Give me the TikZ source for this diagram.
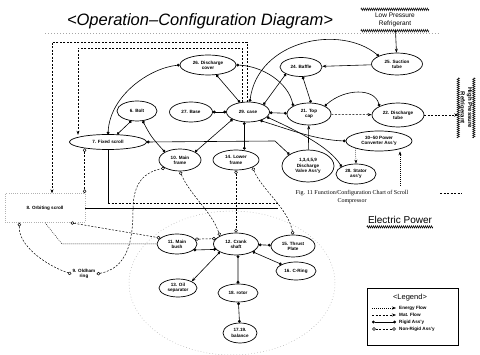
\documentclass[tikz,border=0pt]{standalone}
\usepackage{fontspec}
\setmainfont{Liberation Serif}
\setsansfont{Liberation Sans}
\usetikzlibrary{shapes.geometric,arrows.meta,decorations.pathmorphing,calc}

\begin{document}
\begin{tikzpicture}[x=1pt,y=-1pt,
  part/.style={ellipse,draw,line width=0.7pt,inner sep=0pt,align=center,
    font=\sffamily\bfseries\fontsize{4.6}{5.2}\selectfont},
  lbl/.style={inner sep=1pt,align=center,font=\sffamily\bfseries\fontsize{4.6}{5.2}\selectfont},
  rigid/.style={line width=0.6pt,{Circle[length=2.8pt]}-{Circle[length=2.8pt]}},
  nonrigid/.style={line width=0.5pt,dash pattern=on 2pt off 1.5pt,
    {Diamond[open,length=4pt,width=3.5pt]}-{Diamond[open,length=4pt,width=3.5pt]}},
  matflow/.style={line width=0.5pt,dash pattern=on 2pt off 1.5pt,-{Stealth[length=4pt,width=3pt]}},
  energy/.style={line width=0.5pt,dash pattern=on 0.8pt off 1.2pt,-{Stealth[length=4pt,width=3pt]}},
  solidarrow/.style={line width=0.6pt,-{Stealth[length=4pt,width=3pt]}},
  hatch/.style={decorate,decoration={zigzag,amplitude=1.2pt,segment length=2pt},line width=0.5pt},
  grain/.style={gray!70,line width=0.5pt,dash pattern=on 0.6pt off 2.4pt}
]
\useasboundingbox[fill=white] (0,0) rectangle (480,355);

% ---------- title and outside references ----------
\node[font=\sffamily\itshape\fontsize{16.5}{17}\selectfont] (title) at (200,21)
  {<Operation--Configuration Diagram>};
\draw[grain] (45,33) -- (440,33);

\node[font=\sffamily\fontsize{6.5}{7.5}\selectfont,align=center,inner sep=1pt,
  minimum width=68pt,minimum height=21pt] (lp) at (395,20) {Low Pressure\\Refrigerant};
\draw[hatch] (lp.north west) -- (lp.north east);
\draw[hatch] (lp.south west) -- (lp.south east);

\node[rotate=-90,font=\sffamily\bfseries\fontsize{6}{7.5}\selectfont,align=center,
  inner sep=1pt,minimum width=60pt] (hp) at (466,108) {High Pressure\\Refrigerant};
\draw[hatch] (hp.north west) -- (hp.north east);
\draw[hatch] (hp.south west) -- (hp.south east);

\node[font=\sffamily\fontsize{10}{11}\selectfont,inner sep=1pt] (ep) at (400,220) {Electric Power};
\draw[hatch] ([yshift=-2pt]ep.south west) -- ([yshift=-2pt]ep.south east);

\node[font=\fontsize{6}{7.5}\selectfont,align=center] (cap) at (352,197)
  {Fig. 11 Function/Configuration Chart of Scroll\\Compressor};
\coordinate (capa) at (440,193);
\coordinate (capb) at (462,193);
\draw[line width=0.5pt,dash pattern=on 2pt off 1.5pt] (capa) -- (capb);

% ---------- upper group ----------
\node[part,minimum width=56pt,minimum height=20pt] (dc) at (208,65) {26. Discharge\\cover};
\node[part,minimum width=42pt,minimum height=19pt] (bf) at (301,67) {24. Baffle};
\node[part,minimum width=51pt,minimum height=22pt] (st) at (397,64) {25. Suction\\tube};
\node[part,minimum width=40pt,minimum height=20pt] (bo) at (137,111) {6. Bolt};
\node[part,minimum width=43pt,minimum height=20pt] (bs) at (191,112) {27. Base};
\node[part,minimum width=43pt,minimum height=20pt] (cs) at (248,112) {29. case};
\node[part,minimum width=44pt,minimum height=22pt] (tc) at (309,114) {21. Top\\cap};
\node[part,minimum width=52pt,minimum height=24pt] (dt) at (398,115) {22. Discharge\\tube};
\node[part,minimum width=77pt,minimum height=15pt] (fs) at (108,142) {7. Fixed scroll};
\node[part,minimum width=42pt,minimum height=22pt] (mf) at (180,160) {10. Main\\frame};
\node[part,minimum width=46pt,minimum height=20pt] (lf) at (236,160) {14. Lower\\frame};
\node[part,minimum width=66pt,minimum height=20pt] (pc) at (379,141)
  {30\textasciitilde50 Power\\Converter Ass'y};
\node[part,minimum width=52pt,minimum height=32pt] (dv) at (308,166)
  {1,3,4,5,9\\Discharge\\Valve Ass'y};
\node[part,minimum width=40pt,minimum height=20pt] (sa) at (356,174) {28. Stator\\ass'y};

% ---------- lower group ----------
\node[lbl,draw=gray!60,dash pattern=on 0.6pt off 1.6pt,minimum width=80pt,minimum height=29pt] (os) at (45,208)
  {8. Orbiting scroll};
\node[lbl] (or) at (84,274) {9. Oldham\\ring};
\node[part,minimum width=40pt,minimum height=20pt] (mb) at (177,244) {11. Main\\bush};
\node[part,minimum width=45pt,minimum height=22pt] (cr) at (236,244) {12. Crank\\shaft};
\node[part,minimum width=44pt,minimum height=22pt] (tp) at (293,246) {15. Thrust\\Plate};
\node[part,minimum width=40pt,minimum height=18pt] (cg) at (296,271) {16. C-Ring};
\node[part,minimum width=38pt,minimum height=18pt] (oi) at (178,288) {13. Oil\\separator};
\node[part,minimum width=40pt,minimum height=18pt] (ro) at (238,293) {18. rotor};
\node[part,minimum width=34pt,minimum height=20pt] (ba) at (240,333) {17.19.\\balance};
\draw[grain] (232,283) ellipse [x radius=103pt,y radius=72pt];

% ---------- connectors: upper group ----------
\draw[solidarrow] (lp) -- (st);
\draw[solidarrow] (st) -- (bf);
\draw[rigid] (st.north west) .. controls (340,24) and (258,40) .. (cs.80);
\draw[rigid] (dc.-50) -- (cs.130);
\draw[rigid] (dc.east) .. controls (262,66) and (288,82) .. (tc.north west);
\draw[rigid] (dc.west) .. controls (150,68) and (110,95) .. (fs.north);
\draw[rigid] (bf.south west) -- (cs.north east);
\draw[rigid] (bf.-80) -- (tc.80);
\draw[rigid] (bs) -- (cs);
\draw[rigid] (cs) -- (tc);
\draw[matflow] (tc) -- (dt);
\draw[matflow] (dt.east) -- (dt.east -| hp.south);
\draw[rigid] (tc.north east) .. controls (345,88) and (375,88) .. (dt.north west);
\draw[rigid] (cs.south west) -- (mf.north east);
\draw[rigid] (cs.-110) -- (cs.-110 |- lf.north);
\draw[rigid] (cs.-35) .. controls (285,128) and (315,140) .. (pc.west);
\draw[rigid] (cs.-15) .. controls (300,132) and (330,148) .. (sa.north west);
\draw[solidarrow] (dv) -- (tc);
\draw[rigid] (bo.-120) -- (fs.40);
\draw[rigid] (bo.-60) .. controls (150,135) and (152,138) .. (mf.north west);
\draw[rigid] (fs.east) -- (275,141) -- (dv.north west);

% material loops from the case back to the scrolls
\draw[matflow] (cs.120) |- (78,48) -- (78,48 |- fs.155);
\draw[matflow] (cs.95) |- (52,42) -- (52,42 |- os.north);

% frame rails along the bottom of the upper group
\coordinate (railA) at (278,203);
\coordinate (railB) at (278,208);
\draw[line width=0.6pt] (fs.south) -- (fs.south |- railA);
\draw[line width=0.5pt,dash pattern=on 2pt off 1.5pt] (fs.south |- railA) -- (railA);
\draw[line width=0.6pt] (os.east |- railB) -- (railB);

% power supply
\coordinate (epin) at (400,186);
\draw[energy] (epin) -- (epin |- pc.south);
\draw[energy] (pc.south west) -- (sa.north);

% ---------- connectors: lower group ----------
\draw[nonrigid] (fs.195) -- (fs.195 |- os.north);
\draw[nonrigid] (os.-150) .. controls (18,245) and (45,265) .. (or.west);
\draw[nonrigid] (or.east) .. controls (128,268) and (133,240) .. (133,210)
  .. controls (133,182) and (145,172) .. (mf.south west);
\draw[nonrigid] (os.-30) -- (mb.160);
\draw[energy,-] (os.south) -- (62,244) -- (mb.west);
\draw[nonrigid] (mf.south) .. controls (190,195) and (212,212) .. (cr.north west);
\draw[nonrigid] (lf.south) -- (lf.south |- cr.north);
\draw[nonrigid] (lf.south east) .. controls (262,190) and (288,208) .. (tp.north);
\draw[nonrigid] (mb.15) -- (cr.165);
\draw[rigid] (mb.-20) -- (cr.-165);
\draw[line width=0.6pt,{Circle[length=2.8pt]}-{Stealth[length=4pt,width=3pt]}] (cr.south west) -- (oi.north east);
\draw[rigid] (cr) -- (tp);
\draw[rigid] (cr.-25) -- (cg.north west);
\draw[rigid] (cr.-80) -- (ro.north);
\draw[rigid] (ro) -- (ba);

% ---------- legend ----------
\node[draw,line width=0.6pt,minimum width=91pt,minimum height=57pt] (leg) at (413,317) {};
\node[font=\sffamily\fontsize{7.5}{8}\selectfont] (legt) at (410,298) {<Legend>};
\foreach \n/\yy/\st/\txt in {a/308/energy/Energy Flow,b/315/matflow/Mat. Flow,
    c/322/rigid/Rigid Ass'y,d/329/nonrigid/Non-Rigid Ass'y}{
  \coordinate (ls\n) at (372,\yy);
  \coordinate (le\n) at (396,\yy);
  \draw[\st] (ls\n) -- (le\n);
  \node[lbl,anchor=west] (lt\n) at (398,\yy) {\txt};
}
\end{tikzpicture}
\end{document}
